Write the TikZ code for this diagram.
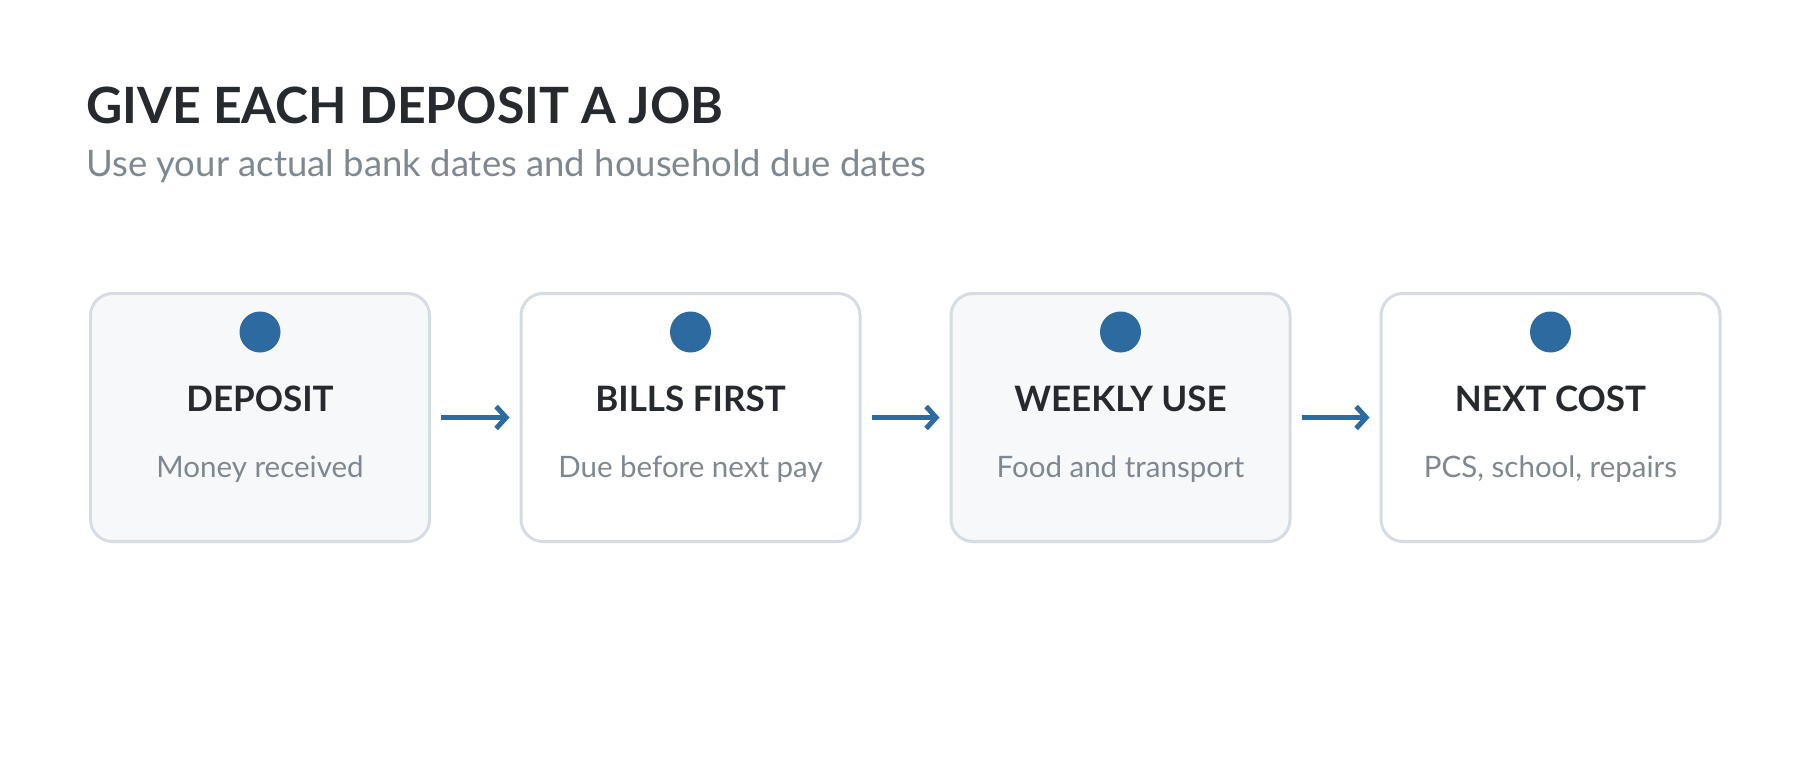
\documentclass[tikz,border=0pt]{standalone}
\usepackage{fontspec}
\setmainfont{Lato}
\usetikzlibrary{arrows.meta}
\definecolor{ink}{HTML}{262A2F}
\definecolor{muted}{HTML}{7F8891}
\definecolor{accent}{HTML}{2D6A9F}
\definecolor{edge}{HTML}{D5DCE3}
\definecolor{paleblue}{HTML}{F7F8FA}
\tikzset{
  stepbox/.style={draw=edge, line width=3pt, rounded corners=22pt, minimum width=339pt, minimum height=248pt, inner sep=0pt},
  dot/.style={circle, fill=accent, minimum size=41pt, inner sep=0pt},
  head/.style={anchor=base, inner sep=0pt, font=\fontsize{35}{38}\selectfont\bfseries, text=ink},
  sub/.style={anchor=base, inner sep=0pt, font=\fontsize{29.5}{32}\selectfont, text=muted},
  arr/.style={draw=accent, line width=5pt, -{Straight Barb[length=10pt,width=22pt,line width=5pt]}, shorten <=10pt, shorten >=10pt},
}
\begin{document}
\begin{tikzpicture}[x=1pt,y=-1pt]
\useasboundingbox (0,0) rectangle (1800,760);
\fill[white] (0,0) rectangle (1800,760);
\node[anchor=base west, inner sep=0pt, font=\fontsize{50}{56}\selectfont\bfseries, text=ink] (title) at (86,123) {GIVE EACH DEPOSIT A JOB};
\node[anchor=base west, inner sep=0pt, font=\fontsize{36.5}{40}\selectfont, text=muted] (subtitle) at (86,176) {Use your actual bank dates and household due dates};
\node[stepbox, fill=paleblue] (b1) at (260,417.5) {};
\node[stepbox, fill=white] (b2) at (690.5,417.5) {};
\node[stepbox, fill=paleblue] (b3) at (1120.5,417.5) {};
\node[stepbox, fill=white] (b4) at (1550.5,417.5) {};
\foreach \i/\h/\s in {1/DEPOSIT/Money received, 2/BILLS FIRST/Due before next pay, 3/WEEKLY USE/Food and transport, 4/NEXT COST/{PCS, school, repairs}}{
  \node[dot] (c\i) at ([yshift=85.5pt]b\i.center) {};
  \node[head] (h\i) at ([yshift=6.5pt]b\i.center) {\h};
  \node[sub] (s\i) at ([yshift=-59.5pt]b\i.center) {\s};
}
\draw[arr] (b1) -- (b2);
\draw[arr] (b2) -- (b3);
\draw[arr] (b3) -- (b4);
\end{tikzpicture}
\end{document}
